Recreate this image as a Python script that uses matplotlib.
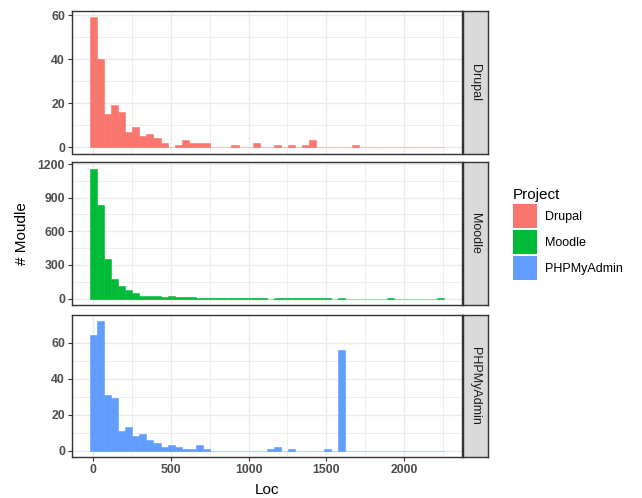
import matplotlib.pyplot as plt
import numpy as np
from matplotlib.patches import Patch

plt.rcParams['font.family'] = ['Liberation Sans', 'DejaVu Sans']

# histogram counts, 50 bins centred on multiples of the bin width
binwidth = 45.6
projects = ["Drupal", "Moodle", "PHPMyAdmin"]
colors = ["#F8766D", "#00BA38", "#619CFF"]

drupal = [59, 40, 15, 19, 16, 7, 9, 5, 6, 4,
          2, 0, 1, 3, 2, 2, 2, 0, 0, 0,
          1, 0, 0, 2, 0, 0, 1, 0, 1, 0,
          1, 3, 0, 0, 0, 0, 0, 1, 0, 0,
          0, 0, 0, 0, 0, 0, 0, 0, 0, 0]
moodle = [1156, 837, 349, 171, 109, 74, 47, 21, 21, 21,
          12, 21, 12, 12, 12, 5, 4, 4, 3, 3,
          3, 2, 2, 2, 2, 0, 2, 1, 1, 2,
          1, 1, 1, 1, 0, 1, 0, 0, 0, 0,
          0, 0, 1, 0, 0, 0, 0, 0, 0, 1]
phpmyadmin = [64, 72, 31, 29, 11, 13, 8, 9, 6, 4,
              2, 3, 2, 1, 1, 3, 1, 0, 0, 0,
              0, 0, 0, 0, 0, 1, 2, 0, 1, 0,
              0, 0, 0, 1, 0, 56, 0, 0, 0, 0,
              0, 0, 0, 0, 0, 0, 0, 0, 0, 0]
counts = [drupal, moodle, phpmyadmin]
yticks = [[0, 20, 40, 60], [0, 300, 600, 900, 1200], [0, 20, 40, 60]]
xticks = [0, 500, 1000, 1500, 2000]

centers = np.arange(len(drupal)) * binwidth
edges = np.append(centers - binwidth / 2, centers[-1] + binwidth / 2)

W, H = 642, 498
fig = plt.figure(figsize=(W / 100, H / 100), dpi=100)

def px(x0, y0, x1, y1):
    return [x0 / W, 1 - y1 / H, (x1 - x0) / W, (y1 - y0) / H]

panels = [(11, 153.5), (162.5, 305), (314.5, 457)]
left, right = 72, 461.7
span = edges[-1] - edges[0]
xlim = (edges[0] - 0.05 * span, edges[-1] + 0.05 * span)
dark = "#333333"

for i, (top, bot) in enumerate(panels):
    ax = fig.add_axes(px(left, top, right, bot))
    c = np.array(counts[i])
    ax.plot([edges[0], edges[-1]], [0, 0], color=colors[i], alpha=0.3, lw=0.8, zorder=2)
    nz = c > 0
    ax.bar(centers[nz], c[nz], width=binwidth, color=colors[i],
           edgecolor=colors[i], linewidth=0.4, zorder=3)
    ymax = c.max()
    ax.set_ylim(-0.05 * ymax, ymax * 1.05)
    ax.set_xlim(*xlim)
    yt = yticks[i]
    ax.set_yticks(yt)
    ax.set_yticks([(a + b) / 2 for a, b in zip(yt[:-1], yt[1:])], minor=True)
    ax.set_xticks(xticks)
    ax.set_xticks([t + 250 for t in xticks], minor=True)
    ax.grid(which="major", color="#EBEBEB", lw=1.0, zorder=0)
    ax.grid(which="minor", color="#EBEBEB", lw=0.6, zorder=0)
    ax.set_axisbelow(True)
    for s in ax.spines.values():
        s.set_color(dark)
        s.set_linewidth(1.0)
    ax.tick_params(which="minor", length=0)
    ax.tick_params(which="major", length=3, color=dark, width=0.8,
                   labelsize=8.8, labelcolor="#4D4D4D", pad=2)
    for lab in ax.get_yticklabels():
        lab.set_fontweight("bold")
    if i < 2:
        ax.tick_params(axis="x", length=0, labelbottom=False)
    else:
        for lab in ax.get_xticklabels():
            lab.set_fontweight("bold")
    # facet strip
    sax = fig.add_axes(px(right + 0.8, top, 488, bot))
    sax.set_facecolor("#D9D9D9")
    sax.set_xticks([])
    sax.set_yticks([])
    for s in sax.spines.values():
        s.set_color(dark)
        s.set_linewidth(1.0)
    sax.text(0.5, 0.5, projects[i], rotation=270, ha="center", va="center",
             fontsize=9, color="#1A1A1A", transform=sax.transAxes)

fig.text(22 / W, 1 - 234 / H, "# Moudle", rotation=90, ha="center", va="center",
         fontsize=11, color="black")
fig.text(267 / W, 1 - 490 / H, "Loc", ha="center", va="center",
         fontsize=11, color="black")

handles = [Patch(facecolor=c, edgecolor="none") for c in colors]
leg = fig.legend(handles, projects, title="Project", loc="upper left",
                 bbox_to_anchor=(503 / W, 1 - 178 / H), frameon=False,
                 fontsize=9, title_fontsize=11, handlelength=1.95,
                 handleheight=2.6, labelspacing=0.15, handletextpad=0.6,
                 alignment="left", borderpad=0.3)

fig.savefig("out.png", dpi=100)
